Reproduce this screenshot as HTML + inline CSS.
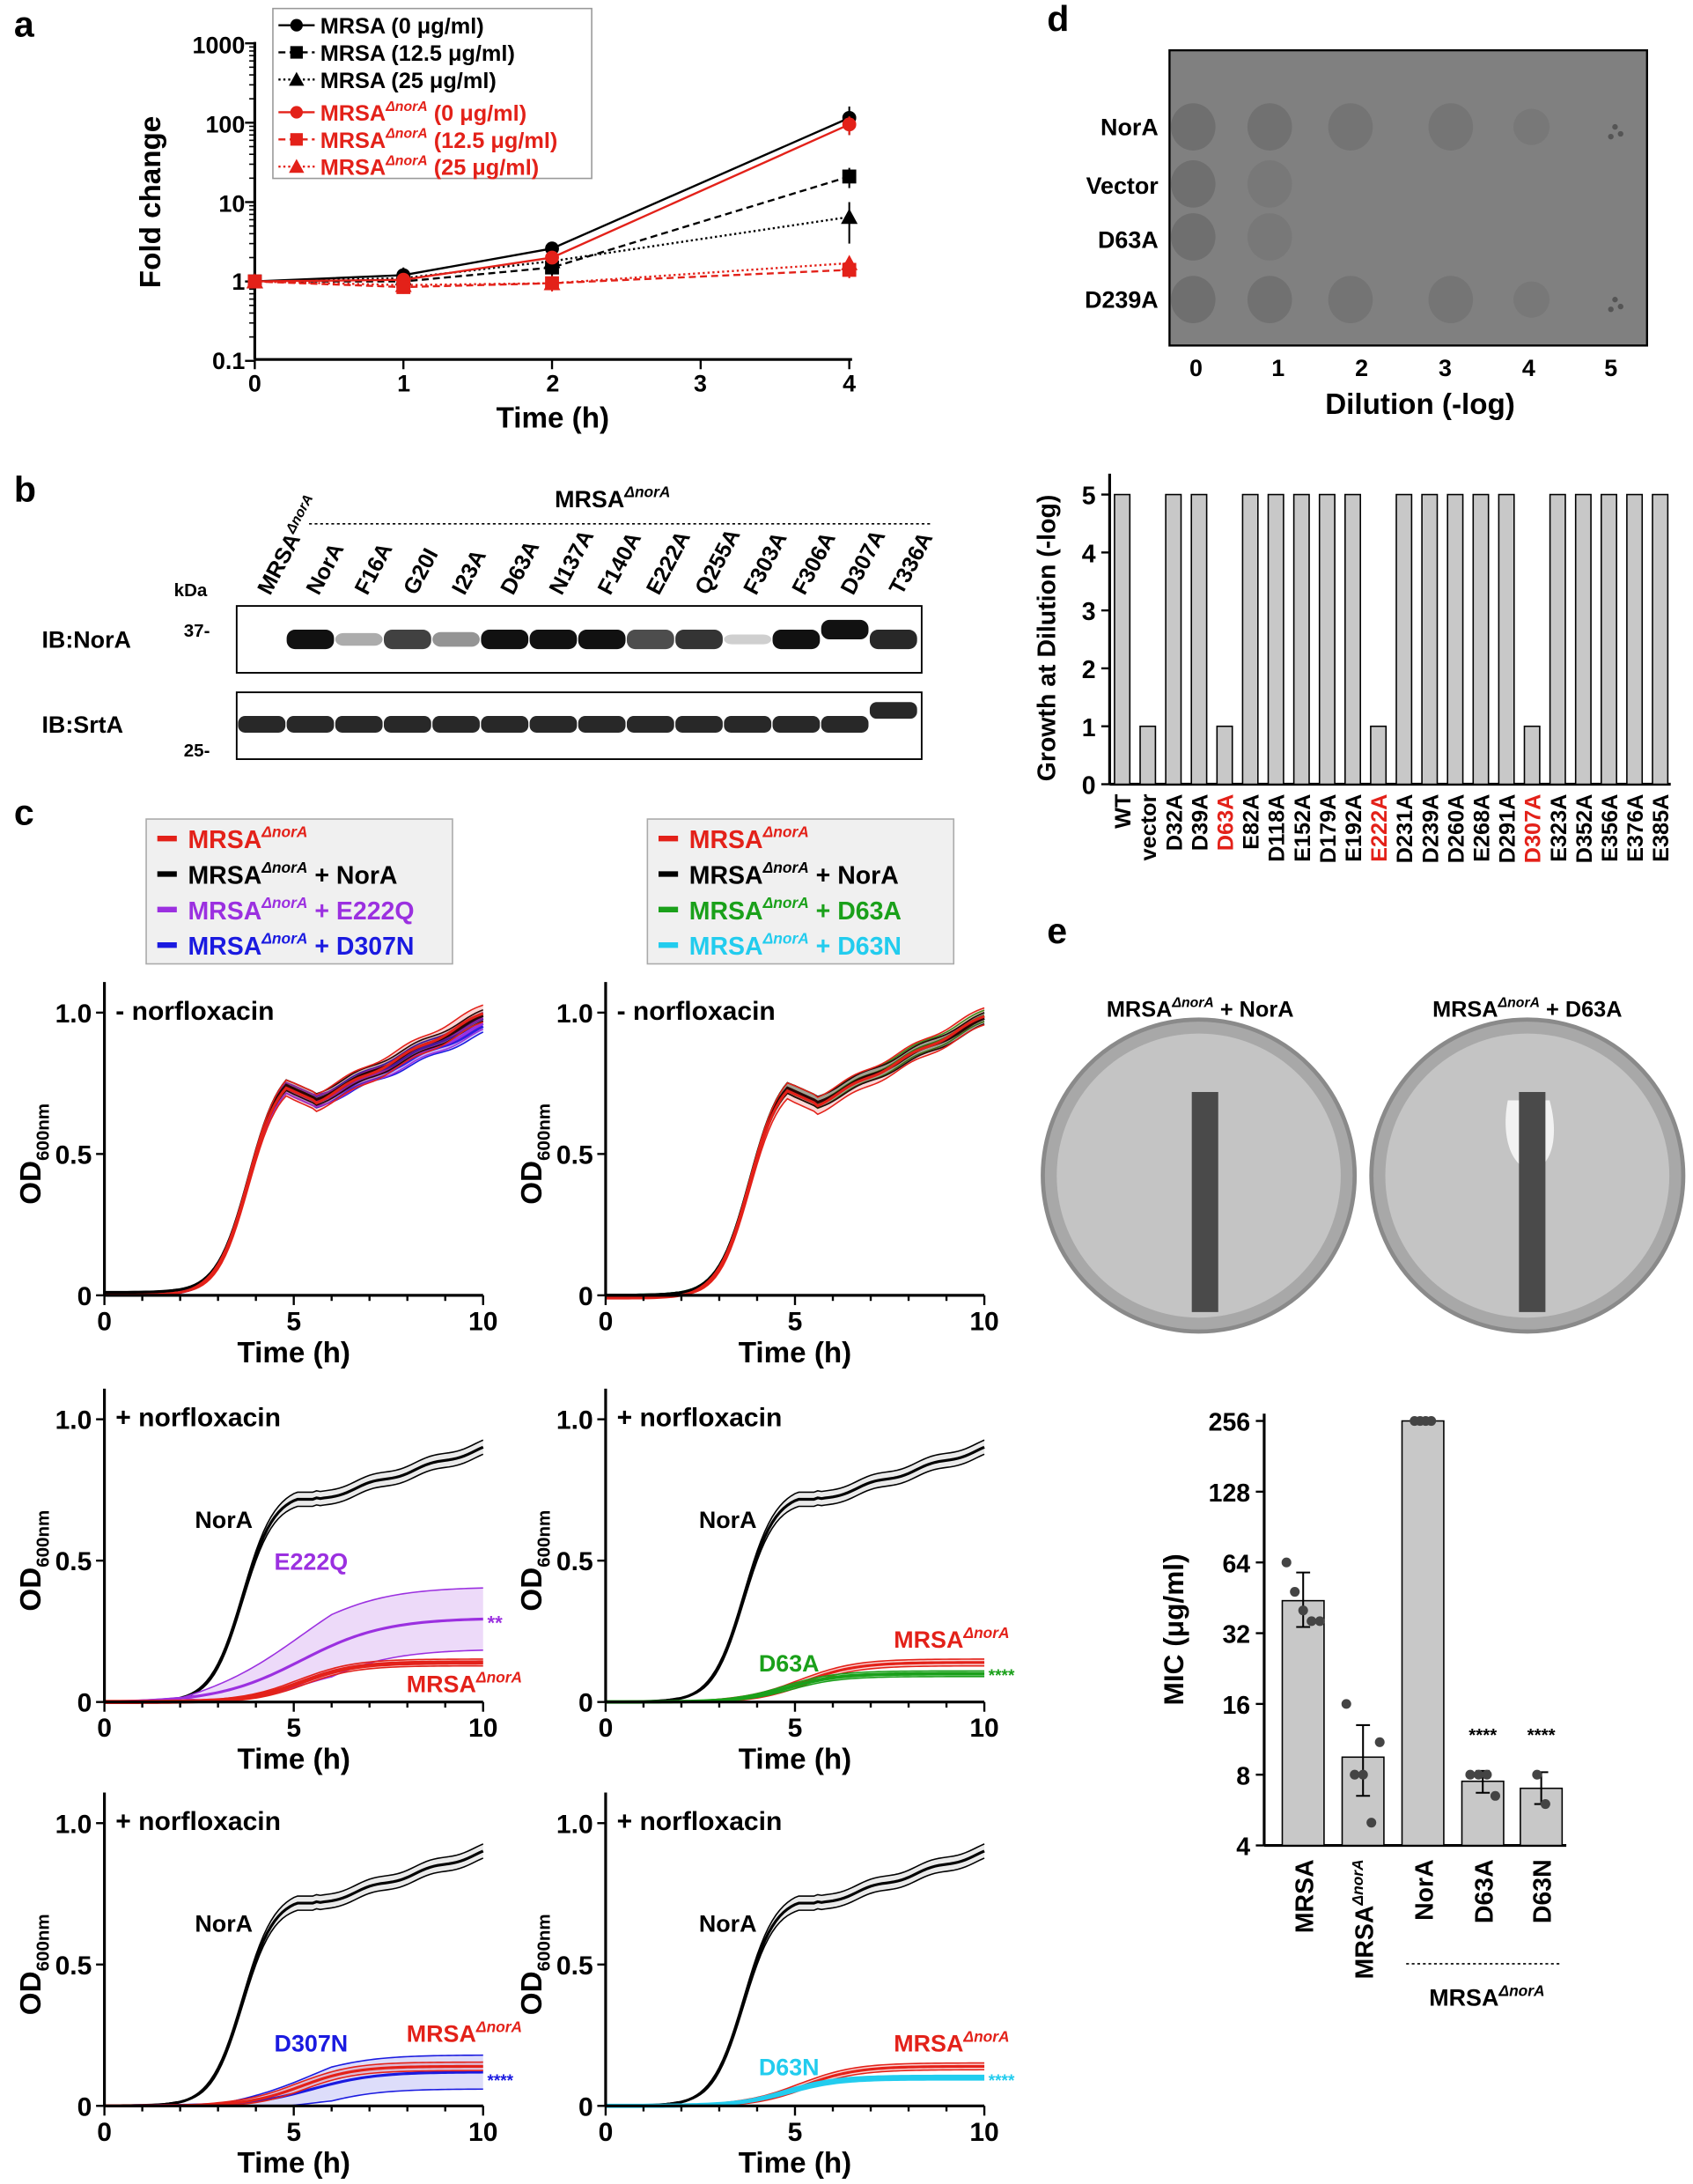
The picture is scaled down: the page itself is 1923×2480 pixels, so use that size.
<!DOCTYPE html>
<html><head><meta charset="utf-8">
<style>
html,body{margin:0;padding:0;background:#fff}
svg{display:block}
text{font-family:"Liberation Sans",Arial,sans-serif;font-weight:bold;fill:#000}
</style></head>
<body>
<svg id="s" xmlns="http://www.w3.org/2000/svg" width="1923" height="2480" viewBox="0 0 1216 1568">
<rect width="1216" height="1568" fill="#fff"/>
<!-- Panel a -->
<text x="10" y="26" font-size="26">a</text>
<g stroke="#000" stroke-width="2" fill="none">
<line x1="183" y1="30" x2="183" y2="258"/><line x1="183" y1="258" x2="612" y2="258"/>
</g>
<g font-size="17" text-anchor="end">
<text x="176" y="38">1000</text><text x="176" y="95">100</text><text x="176" y="152">10</text><text x="176" y="208">1</text><text x="176" y="265">0.1</text>
</g>
<g font-size="17" text-anchor="middle">
<text x="183" y="281">0</text><text x="290" y="281">1</text><text x="397" y="281">2</text><text x="503" y="281">3</text><text x="610" y="281">4</text>
<text x="397" y="307" font-size="21">Time (h)</text>
</g>
<text transform="translate(115,145) rotate(-90)" font-size="21" text-anchor="middle">Fold change</text>
<g id="aticks" stroke="#000" stroke-width="1.5"></g>
<g id="aseries"></g>
<rect x="196" y="6" width="229" height="122" fill="#fff" stroke="#999" stroke-width="1"/>
<g id="aleg"></g>

<!-- Panel b -->
<text x="10" y="360" font-size="26">b</text>
<text x="440" y="364" font-size="17" text-anchor="middle">MRSA<tspan font-size="11" dy="-7" font-style="italic">ΔnorA</tspan></text>
<line x1="222" y1="376" x2="668" y2="376" stroke="#000" stroke-dasharray="2,2"/>
<g id="blab" font-size="16"></g>
<text x="125" y="428" font-size="13">kDa</text>
<text x="132" y="457" font-size="13">37-</text>
<text x="132" y="543" font-size="13">25-</text>
<text x="30" y="465" font-size="17">IB:NorA</text>
<text x="30" y="526" font-size="17">IB:SrtA</text>
<rect x="170" y="435" width="492" height="48" fill="#fff" stroke="#000" stroke-width="1.2"/>
<rect x="170" y="497" width="492" height="48" fill="#fff" stroke="#000" stroke-width="1.2"/>
<g id="bands"></g>

<!-- Panel c -->
<text x="10" y="592" font-size="26">c</text>
<g id="cleg"></g>
<g id="cplots"></g>

<!-- Panel d -->
<text x="752" y="22" font-size="26">d</text>
<text x="1175" y="55" font-size="17" text-anchor="end">+norfloxacin</text>
<rect x="840" y="36" width="343" height="212" fill="#808080" stroke="#000" stroke-width="1.5"/>
<g id="spots"></g>
<g font-size="17" text-anchor="end">
<text x="832" y="97">NorA</text><text x="832" y="139">Vector</text><text x="832" y="178">D63A</text><text x="832" y="221">D239A</text>
</g>
<g font-size="17" text-anchor="middle">
<text x="859" y="270">0</text><text x="918" y="270">1</text><text x="978" y="270">2</text><text x="1038" y="270">3</text><text x="1098" y="270">4</text><text x="1157" y="270">5</text>
<text x="1020" y="297" font-size="21">Dilution (-log)</text>
</g>
<text transform="translate(758,458) rotate(-90)" font-size="18" text-anchor="middle">Growth at Dilution (-log)</text>
<g id="dbar"></g>

<!-- Panel e -->
<text x="752" y="677" font-size="26">e</text>
<text x="862" y="730" font-size="16" text-anchor="middle">MRSA<tspan font-size="10" dy="-7" font-style="italic">ΔnorA</tspan><tspan dy="7"> + NorA</tspan></text>
<text x="1097" y="730" font-size="16" text-anchor="middle">MRSA<tspan font-size="10" dy="-7" font-style="italic">ΔnorA</tspan><tspan dy="7"> + D63A</tspan></text>
<g>
<circle cx="861" cy="844" r="112" fill="#a8a8a8" stroke="#8a8a8a" stroke-width="3"/>
<circle cx="861" cy="844" r="102" fill="#c4c4c4"/>
<circle cx="1097" cy="844" r="112" fill="#a8a8a8" stroke="#8a8a8a" stroke-width="3"/>
<circle cx="1097" cy="844" r="102" fill="#c4c4c4"/>
<path d="M1083,790 C1078,815 1085,838 1100,840 C1115,838 1120,815 1113,790 Z" fill="#f2f2f2"/>
<rect x="856" y="784" width="19" height="158" fill="#4a4a4a"/>
<rect x="1091" y="784" width="19" height="158" fill="#4a4a4a"/>
</g>
<g id="emic"></g>
</svg>
<script>
const NS="http://www.w3.org/2000/svg";
function el(p,t,a,txt){const e=document.createElementNS(NS,t);for(const k in a)e.setAttribute(k,a[k]);if(txt!==undefined)e.textContent=txt;document.getElementById(p).appendChild(e);return e;}
// Panel a
const ax=t=>183+t*106.75, ay=v=>202-57*Math.log10(v);
for(const v of [1000,100,10,1,0.1]) el("aticks","line",{x1:176,x2:183,y1:ay(v),y2:ay(v)});
for(let d=-1;d<3;d++)for(let k=2;k<10;k++){const y=ay(k*Math.pow(10,d));el("aticks","line",{x1:179,x2:183,y1:y,y2:y,"stroke-width":1});}
for(const t of [0,1,2,3,4]) el("aticks","line",{x1:ax(t),x2:ax(t),y1:258,y2:265});
const AS=[
 {c:"#000",d:"",m:"c",v:[1,1.2,2.6,115],e:[0,0.3,0.5,45]},
 {c:"#000",d:"5,3",m:"s",v:[1,1.0,1.5,21],e:[0,0.15,0.4,6]},
 {c:"#000",d:"1.5,2",m:"t",v:[1,1.1,1.8,6.5],e:[0,0.2,0.4,3.5]},
 {c:"#e32119",d:"",m:"c",v:[1,1.05,2.0,95],e:[0,0.2,0.3,25]},
 {c:"#e32119",d:"5,3",m:"s",v:[1,0.85,0.95,1.4],e:[0,0.15,0.2,0.3]},
 {c:"#e32119",d:"1.5,2",m:"t",v:[1,0.9,0.95,1.7],e:[0,0.15,0.2,0.3]}];
const T=[0,1,2,4];
function marker(g,m,x,y,c,r){if(m=="c")el(g,"circle",{cx:x,cy:y,r:r,fill:c});else if(m=="s")el(g,"rect",{x:x-r,y:y-r,width:2*r,height:2*r,fill:c});else el(g,"polygon",{points:`${x},${y-r-1} ${x-r-1},${y+r} ${x+r+1},${y+r}`,fill:c});}
for(const s of AS){el("aseries","polyline",{points:T.map((t,i)=>ax(t)+","+ay(s.v[i])).join(" "),fill:"none",stroke:s.c,"stroke-width":1.5,"stroke-dasharray":s.d});
 T.forEach((t,i)=>{if(s.e[i]>0){const x=ax(t);el("aseries","line",{x1:x,x2:x,y1:ay(s.v[i]+s.e[i]),y2:ay(Math.max(0.11,s.v[i]-s.e[i])),stroke:s.c,"stroke-width":1.3});}marker("aseries",s.m,ax(t),ay(s.v[i]),s.c,5);});}
const AL=["MRSA (0 μg/ml)","MRSA (12.5 μg/ml)","MRSA (25 μg/ml)","(0 μg/ml)","(12.5 μg/ml)","(25 μg/ml)"];
AS.forEach((s,i)=>{const y=18+i*19.5+(i>2?4:0);el("aleg","line",{x1:200,x2:226,y1:y,y2:y,stroke:s.c,"stroke-width":1.5,"stroke-dasharray":s.d});marker("aleg",s.m,213,y,s.c,4.5);
 const t=el("aleg","text",{x:230,y:y+6,"font-size":16,fill:s.c,style:"fill:"+s.c});
 if(i<3)t.textContent=AL[i];else{t.innerHTML='MRSA<tspan font-size="10" dy="-7" font-style="italic">ΔnorA</tspan><tspan dy="7"> '+AL[i]+'</tspan>';}});
// Panel b
const lanes=["MRSA<tspan font-size='10' dy='-6' font-style='italic'>ΔnorA</tspan>","NorA","F16A","G20I","I23A","D63A","N137A","F140A","E222A","Q255A","F303A","F306A","D307A","T336A"];
const nb=[0,1,0.35,0.8,0.45,1,1,1.05,0.75,0.85,0.2,1.05,1.05,0.9];
lanes.forEach((l,i)=>{const x=188+i*34.9;const t=el("blab","text",{transform:`translate(${x+6},428) rotate(-62)`});t.innerHTML=l;
 if(nb[i]>0){const h=14*Math.min(1,nb[i]+0.3);el("bands","rect",{x:x-17,y:(i==12?452:459)-h/2,width:34,height:h,rx:6,fill:"#111","fill-opacity":Math.min(1,nb[i])});}
 el("bands","rect",{x:x-17,y:(i==13?510:520)-6,width:34,height:12,rx:5,fill:"#111","fill-opacity":0.9});});
// Panel c legends
function leg(x0,items){el("cleg","rect",{x:x0,y:588,width:220,height:104,fill:"#f0f0f0",stroke:"#aaa"});
 items.forEach((it,i)=>{const y=602+i*25.5;el("cleg","line",{x1:x0+8,x2:x0+22,y1:y,y2:y,stroke:it[0],"stroke-width":4});
 const t=el("cleg","text",{x:x0+30,y:y+7,"font-size":18,style:"fill:"+it[0]});t.innerHTML='MRSA<tspan font-size="11" dy="-8" font-style="italic">ΔnorA</tspan><tspan dy="8" style="fill:'+it[0]+'">'+it[1]+'</tspan>';
 if(i==1)t.lastChild.setAttribute("style","fill:#000");});}
leg(105,[["#e32119",""],["#000"," + NorA"],["#9b30e0"," + E222Q"],["#1a1ae0"," + D307N"]]);
leg(465,[["#e32119",""],["#000"," + NorA"],["#1aa01a"," + D63A"],["#22ccee"," + D63N"]]);
// curves
const lg=(t,a,m,k)=>a/(1+Math.exp(-(t-m)*k));
const nz=(t,j)=>t<5.5?0:0.006*Math.sin(t*4+j*30);
function grow(t,j){let v;if(t<=4.8)v=lg(t,0.8,3.8,2.4);else if(t<=5.6)v=lg(4.8,0.8,3.8,2.4)-(t-4.8)*0.06;else v=lg(4.8,0.8,3.8,2.4)-0.048+(t-5.6)*(1.0+j-0.71)/4.4;return Math.max(0,v-lg(0,0.8,3.8,2.4))+nz(t,j);}
function noraD(t){let v;if(t<=5)v=lg(t,0.74,3.65,2.4);else if(t<=5.6)v=lg(5,0.74,3.65,2.4)+0.005;else v=lg(5,0.74,3.65,2.4)+(t-5.6)*0.042;return Math.max(0,v-lg(0,0.74,3.65,2.4))+nz(t,1);}
function plot(col,row,title,series,ann){const x0=col?435:75,y0=[930,1222,1512][row],X=t=>x0+t*27.2,Y=v=>y0-v*203;
 const g="cplots";
 series.forEach(s=>{let up=[],dn=[],md=[];for(let t=0;t<=10.001;t+=0.1){const v=s.f(t),w=s.w(t);md.push(X(t)+","+Y(v));up.push(X(t)+","+Y(v+w));dn.unshift(X(t)+","+Y(Math.max(0,v-w)));}
  el(g,"polygon",{points:up.concat(dn).join(" "),fill:s.fill||s.c,"fill-opacity":s.fo||0.18});
  el(g,"polyline",{points:up.join(" "),fill:"none",stroke:s.c,"stroke-width":1});
  el(g,"polyline",{points:dn.join(" "),fill:"none",stroke:s.c,"stroke-width":1});
  el(g,"polyline",{points:md.join(" "),fill:"none",stroke:s.c,"stroke-width":s.lw||2});});
 el(g,"line",{x1:x0,y1:y0,x2:x0,y2:y0-225,stroke:"#000","stroke-width":2});
 el(g,"line",{x1:x0,y1:y0,x2:x0+272,y2:y0,stroke:"#000","stroke-width":2});
 [[0,"0"],[0.5,"0.5"],[1,"1.0"]].forEach(([v,l])=>{el(g,"line",{x1:x0-6,x2:x0,y1:Y(v),y2:Y(v),stroke:"#000","stroke-width":1.5});el(g,"text",{x:x0-9,y:Y(v)+7,"font-size":19,"text-anchor":"end"},l);});
 for(let t=0;t<=10;t++){el(g,"line",{x1:X(t),x2:X(t),y1:y0,y2:y0+(t%5?4:7),stroke:"#000","stroke-width":1.5});}
 [0,5,10].forEach(t=>el(g,"text",{x:X(t),y:y0+25,"font-size":19,"text-anchor":"middle"},t));
 el(g,"text",{x:X(5),y:y0+48,"font-size":21,"text-anchor":"middle"},"Time (h)");
 const yl=el(g,"text",{transform:`translate(${x0-46},${Y(0.5)}) rotate(-90)`,"font-size":21,"text-anchor":"middle"});yl.innerHTML='OD<tspan font-size="13" dy="6">600nm</tspan>';
 el(g,"text",{x:x0+8,y:Y(1)+5,"font-size":19},title);
 ann.forEach(a=>{const t=el(g,"text",{x:a[0],y:a[1],"font-size":a[3]||17,"text-anchor":a[4]||"start",style:"fill:"+a[2]});t.innerHTML=a[5];});}
const W=w=>t=>t<2?0.003:w*Math.min(1,(t-2)/3);
const RED="#e32119",BLK="#000";
plot(0,0,"- norfloxacin",[
 {f:t=>grow(t,0.0),w:W(0.02),c:"#1a1ae0"},{f:t=>grow(t,-0.03),w:W(0.02),c:"#1a1ae0"},
 {f:t=>grow(t,-0.02),w:W(0.02),c:"#9b30e0"},{f:t=>grow(t,0.0)+0.01,w:W(0.02),c:BLK},{f:t=>grow(t,0.02),w:W(0.03),c:RED}],[]);
plot(1,0,"- norfloxacin",[
 {f:t=>grow(t,0.0),w:W(0.02),c:"#22ccee"},{f:t=>grow(t,0.01),w:W(0.02),c:"#1aa01a"},{f:t=>grow(t,0.0),w:W(0.02),c:BLK},{f:t=>grow(t,0.02)-0.01,w:W(0.03),c:RED}],[]);
const mrsa=t=>lg(t,0.14,5.2,1.4)-lg(0,0.14,5.2,1.4);
const NOR={f:noraD,w:W(0.025),c:BLK,fill:"#888"};
plot(0,1,"+ norfloxacin",[NOR,{f:t=>lg(t,0.3,5.2,0.9)-lg(0,0.3,5.2,0.9),w:t=>t<2?0.003:0.11*Math.min(1,(t-2)/4),c:"#9b30e0"},{f:mrsa,w:W(0.012),c:RED,lw:3}],
 [[140,1097,"#000",17,"start","NorA"],[197,1127,"#9b30e0",17,"start","E222Q"],[350,1170,"#9b30e0",14,"start","**"],[292,1215,RED,17,"start",'MRSA<tspan font-size="11" dy="-7" font-style="italic">ΔnorA</tspan>']]);
plot(1,1,"+ norfloxacin",[NOR,{f:mrsa,w:W(0.012),c:RED},{f:t=>lg(t,0.1,4.8,1.5)-lg(0,0.1,4.8,1.5),w:W(0.01),c:"#1aa01a",lw:2.5}],
 [[502,1097,"#000",17,"start","NorA"],[545,1200,"#1aa01a",17,"start","D63A"],[642,1183,RED,17,"start",'MRSA<tspan font-size="11" dy="-7" font-style="italic">ΔnorA</tspan>'],[710,1207,"#1aa01a",12,"start","****"]]);
plot(0,2,"+ norfloxacin",[NOR,{f:t=>lg(t,0.12,5.5,1.2)-lg(0,0.12,5.5,1.2),w:t=>t<3?0.003:0.06*Math.min(1,(t-3)/3),c:"#1a1ae0",fo:0.15},{f:mrsa,w:W(0.015),c:RED}],
 [[140,1387,"#000",17,"start","NorA"],[197,1473,"#1a1ae0",17,"start","D307N"],[292,1466,RED,17,"start",'MRSA<tspan font-size="11" dy="-7" font-style="italic">ΔnorA</tspan>'],[350,1498,"#1a1ae0",12,"start","****"]]);
plot(1,2,"+ norfloxacin",[NOR,{f:mrsa,w:W(0.012),c:RED},{f:t=>lg(t,0.1,4.8,1.5)-lg(0,0.1,4.8,1.5),w:W(0.008),c:"#22ccee",lw:3}],
 [[502,1387,"#000",17,"start","NorA"],[545,1490,"#22ccee",17,"start","D63N"],[642,1473,RED,17,"start",'MRSA<tspan font-size="11" dy="-7" font-style="italic">ΔnorA</tspan>'],[710,1498,"#22ccee",12,"start","****"]]);
// Panel d spots
const cols=[857,912,970,1042,1100,1160],rows=[91,132,170,215];
const grow5=[6,2,2,6];
rows.forEach((y,r)=>{for(let c=0;c<grow5[r];c++){let op=c<4?0.45-c*0.06:0.2;if(r>0&&r<3&&c==1)op=0.22;
 if(c==5){el("spots","circle",{cx:cols[c],cy:y,r:2,fill:"#555"});el("spots","circle",{cx:cols[c]+4,cy:y+5,r:2,fill:"#555"});el("spots","circle",{cx:cols[c]-3,cy:y+7,r:2,fill:"#555"});}
 else el("spots","ellipse",{cx:cols[c],cy:y,rx:c==4?13:16,ry:c==4?13:17,fill:"#5a5a5a","fill-opacity":op});}});
// Panel d bars
el("dbar","line",{x1:797,y1:340,x2:797,y2:563,stroke:"#000","stroke-width":2});
el("dbar","line",{x1:797,y1:563,x2:1200,y2:563,stroke:"#000","stroke-width":2});
for(let v=0;v<=5;v++){const y=563-v*41.6;el("dbar","line",{x1:791,x2:797,y1:y,y2:y,stroke:"#000","stroke-width":1.5});el("dbar","text",{x:787,y:y+7,"font-size":18,"text-anchor":"end"},v);}
const names=["WT","vector","D32A","D39A","D63A","E82A","D118A","E152A","D179A","E192A","E222A","D231A","D239A","D260A","E268A","D291A","D307A","E323A","D352A","E356A","E376A","E385A"];
names.forEach((n,i)=>{const x=806+i*18.4;const v=(n=="vector"||n=="D63A"||n=="E222A"||n=="D307A")?1:5;
 el("dbar","rect",{x:x-5.5,y:563-v*41.6,width:11,height:v*41.6,fill:"#c8c8c8",stroke:"#000","stroke-width":1});
 const red=["D63A","E222A","D307A"].includes(n);el("dbar","text",{transform:`translate(${x+6},570) rotate(-90)`,"font-size":16,"text-anchor":"end",style:"fill:"+(red?RED:"#000")},n);});
// Panel e MIC
const my=v=>1325-50.8*(Math.log2(v)-2);
el("emic","line",{x1:908,y1:1015,x2:908,y2:1325,stroke:"#000","stroke-width":2});
el("emic","line",{x1:908,y1:1325,x2:1125,y2:1325,stroke:"#000","stroke-width":2});
[4,8,16,32,64,128,256].forEach(v=>{el("emic","line",{x1:902,x2:908,y1:my(v),y2:my(v),stroke:"#000","stroke-width":1.5});el("emic","text",{x:898,y:my(v)+7,"font-size":18,"text-anchor":"end"},v);});
el("emic","text",{transform:"translate(850,1170) rotate(-90)","font-size":20,"text-anchor":"middle"},"MIC (μg/ml)");
const bars=[[936,44,[64,48,40,36,36],58,34],[979,9.5,[16,8,8,5,11],13,6.5],[1022,256,[256,256,256,256],256,256],[1065,7.5,[8,8,8,6.5],8.3,6.7],[1107,7,[8,6],8.2,6]];
const bl=["MRSA",null,"NorA","D63A","D63N"];
bars.forEach((b,i)=>{const x=b[0];el("emic","rect",{x:x-15,y:my(b[1]),width:30,height:1325-my(b[1]),fill:"#c8c8c8",stroke:"#000","stroke-width":1});
 el("emic","line",{x1:x,x2:x,y1:my(b[3]),y2:my(b[4]),stroke:"#000","stroke-width":1.3});
 el("emic","line",{x1:x-5,x2:x+5,y1:my(b[3]),y2:my(b[3]),stroke:"#000","stroke-width":1.3});el("emic","line",{x1:x-5,x2:x+5,y1:my(b[4]),y2:my(b[4]),stroke:"#000","stroke-width":1.3});
 b[2].forEach((v,j)=>el("emic","circle",{cx:x+(j-(b[2].length-1)/2)*(i==2?4:6),cy:my(v),r:3.5,fill:"#444"}));
 if(bl[i])el("emic","text",{transform:`translate(${x+7},1335) rotate(-90)`,"font-size":18,"text-anchor":"end"},bl[i]);
 else{const t=el("emic","text",{transform:`translate(${x+7},1335) rotate(-90)`,"font-size":18,"text-anchor":"end"});t.innerHTML='MRSA<tspan font-size="11" dy="-7" font-style="italic">ΔnorA</tspan>';}});
el("emic","text",{x:1065,y:1250,"font-size":13,"text-anchor":"middle"},"****");
el("emic","text",{x:1107,y:1250,"font-size":13,"text-anchor":"middle"},"****");
el("emic","line",{x1:1010,x2:1120,y1:1410,y2:1410,stroke:"#000","stroke-dasharray":"2,2"});
const mt=el("emic","text",{x:1068,y:1440,"font-size":17,"text-anchor":"middle"});mt.innerHTML='MRSA<tspan font-size="11" dy="-7" font-style="italic">ΔnorA</tspan>';
</script>
</body></html>
